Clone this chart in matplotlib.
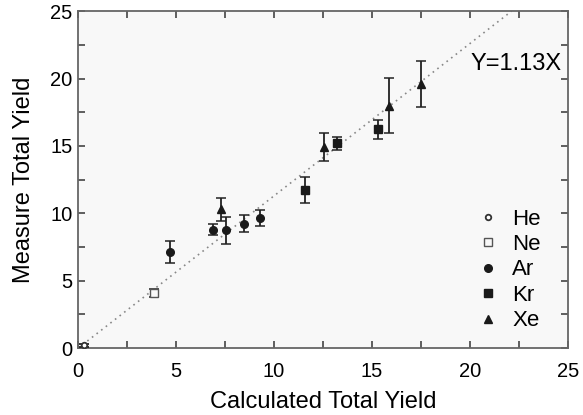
"""Measured vs calculated total yield for noble gases."""

import matplotlib
matplotlib.use("Agg")
import matplotlib.pyplot as plt
from matplotlib.ticker import MultipleLocator

# Data
he_x = [0.3]
he_y = [0.2]
he_err = [0.1]

ne_x = [3.85]
ne_y = [4.1]
ne_err = [0.3]

ar_x = [4.7, 6.9, 7.55, 8.45, 9.3]
ar_y = [7.15, 8.8, 8.75, 9.25, 9.65]
ar_err = [0.8, 0.4, 1.0, 0.6, 0.6]

kr_x = [11.6, 13.2, 15.3]
kr_y = [11.75, 15.2, 16.25]
kr_err = [0.95, 0.5, 0.7]

xe_x = [7.3, 12.55, 15.85, 17.5]
xe_y = [10.3, 14.9, 18.0, 19.6]
xe_err = [0.85, 1.05, 2.05, 1.7]

slope = 1.13
fit_x = [0, 25 / slope]


def main():
    plt.rcParams["font.family"] = ["Liberation Sans", "DejaVu Sans"]
    fig = plt.figure(figsize=(5.83, 4.15), dpi=100)
    ax = fig.add_axes([0.134, 0.161, 0.840, 0.812])
    ax.set_facecolor("#f8f8f8")

    ax.plot(fit_x, [slope * x for x in fit_x], linestyle=(0, (1, 2.5)),
            color="#888888", lw=1.2, zorder=1)

    eb = dict(ecolor="#222222", elinewidth=1.3, capsize=3.5, capthick=1.1,
              linestyle="none", zorder=3)
    ax.errorbar(he_x, he_y, yerr=he_err, fmt="o", mfc="white", mec="#333333",
                ms=4, mew=1.3, label="He", **eb)
    ax.errorbar(ne_x, ne_y, yerr=ne_err, fmt="s", mfc="#f8f8f8", mec="#555555",
                ms=6, label="Ne", **eb)
    ax.errorbar(ar_x, ar_y, yerr=ar_err, fmt="o", color="#1a1a1a", ms=5.5,
                label="Ar", **eb)
    ax.errorbar(kr_x, kr_y, yerr=kr_err, fmt="s", color="#1a1a1a", ms=5.5,
                label="Kr", **eb)
    ax.errorbar(xe_x, xe_y, yerr=xe_err, fmt="^", color="#1a1a1a", ms=5.5,
                label="Xe", **eb)

    ax.text(24.7, 21.1, "Y=1.13X", fontsize=17, ha="right", va="center")

    handles, labels = ax.get_legend_handles_labels()
    handles = [h[0] for h in handles]
    ax.legend(handles, labels, loc="lower right", frameon=False, fontsize=16,
              handletextpad=0.6, labelspacing=0.2, handlelength=1.0,
              borderaxespad=0, borderpad=0, bbox_to_anchor=(0.945, 0.05))

    ax.set_xlim(0, 25)
    ax.set_ylim(0, 25)
    ax.xaxis.set_major_locator(MultipleLocator(5))
    ax.yaxis.set_major_locator(MultipleLocator(5))
    ax.xaxis.set_minor_locator(MultipleLocator(2.5))
    ax.yaxis.set_minor_locator(MultipleLocator(2.5))
    ax.tick_params(which="both", direction="in", top=True, right=True,
                   labelsize=14.5, width=1.2, color="#444444", length=5)
    ax.tick_params(axis="x", pad=10)
    ax.tick_params(axis="y", pad=4)
    for s in ax.spines.values():
        s.set_linewidth(1.3)
        s.set_color("#666666")

    ax.set_xlabel("Calculated Total Yield", fontsize=17, labelpad=7)
    ax.set_ylabel("Measure Total Yield", fontsize=17, labelpad=11)

    fig.savefig("out.png", dpi=100)


if __name__ == "__main__":
    main()
